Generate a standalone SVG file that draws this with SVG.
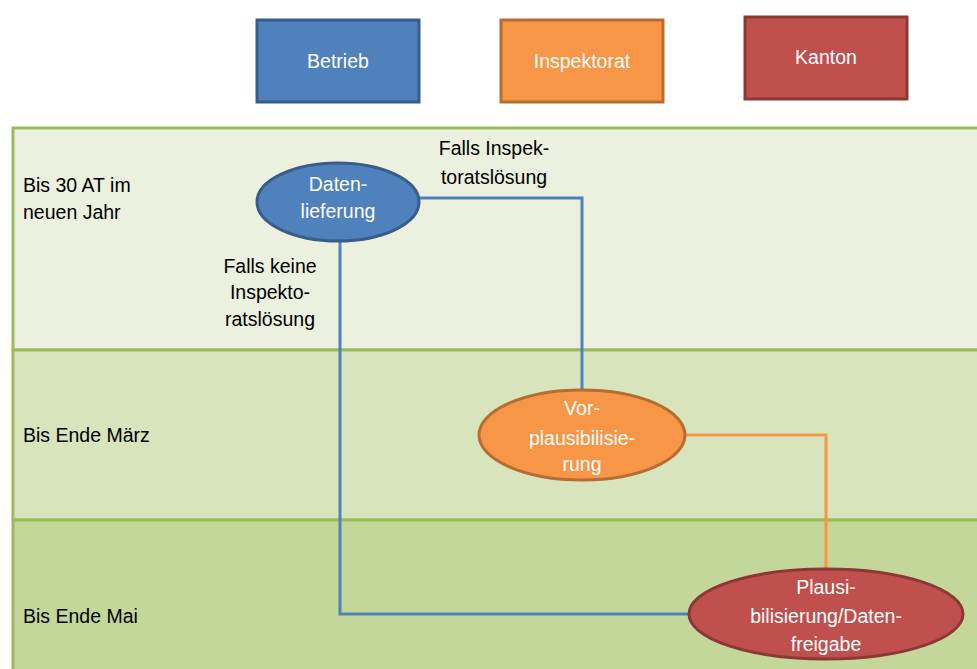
<svg xmlns="http://www.w3.org/2000/svg" width="977" height="669" viewBox="0 0 977 669">
<style>
text{font-family:"Liberation Sans",Arial,sans-serif;font-size:19.5px;}
.w{fill:#ffffff;text-anchor:middle;}
.b{fill:#000000;}
.c{text-anchor:middle;}
.lane{stroke:#9bbb59;stroke-width:3;}
.conn{fill:none;stroke-width:3;}
</style>
<rect x="0" y="0" width="977" height="669" fill="#ffffff"/>
<g id="lanes">
<rect class="lane" x="13" y="128" width="970" height="222" fill="#ebf1de"/>
<rect class="lane" x="13" y="350" width="970" height="170" fill="#d8e4bc"/>
<rect class="lane" x="13" y="520" width="970" height="155" fill="#c4d79b"/>
<text class="b" x="23" y="192">Bis 30 AT im</text>
<text class="b" x="23" y="219">neuen Jahr</text>
<text class="b" x="23" y="442">Bis Ende März</text>
<text class="b" x="23" y="623">Bis Ende Mai</text>
</g>
<g id="header-betrieb">
<rect x="257" y="20" width="162" height="82" fill="#4f81bd" stroke="#385d8a" stroke-width="3"/>
<text class="w" x="338" y="68">Betrieb</text>
</g>
<g id="header-inspektorat">
<rect x="501" y="20" width="162" height="82" fill="#f79646" stroke="#b66d31" stroke-width="3"/>
<text class="w" x="582" y="68">Inspektorat</text>
</g>
<g id="header-kanton">
<rect x="745" y="17" width="162" height="82" fill="#c0504d" stroke="#8c3836" stroke-width="3"/>
<text class="w" x="826" y="64">Kanton</text>
</g>
<g id="connectors">
<polyline class="conn" stroke="#4f81bd" points="419,198 582,198 582,391"/>
<polyline class="conn" stroke="#4f81bd" points="340,241 340,614 690,614"/>
<polyline class="conn" stroke="#f79646" points="685,435 826,435 826,570"/>
<text class="b c" x="494" y="155">Falls Inspek-</text>
<text class="b c" x="494" y="184">toratslösung</text>
<text class="b c" x="270" y="273">Falls keine</text>
<text class="b c" x="270" y="299">Inspekto-</text>
<text class="b c" x="270" y="326">ratslösung</text>
</g>
<g id="node-datenlieferung">
<ellipse cx="338" cy="202" rx="81" ry="39" fill="#4f81bd" stroke="#385d8a" stroke-width="3"/>
<text class="w" x="338" y="191">Daten-</text>
<text class="w" x="338" y="218">lieferung</text>
</g>
<g id="node-vorplausibilisierung">
<ellipse cx="582" cy="435" rx="103" ry="45" fill="#f79646" stroke="#b66d31" stroke-width="3"/>
<text class="w" x="582" y="415">Vor-</text>
<text class="w" x="582" y="445">plausibilisie-</text>
<text class="w" x="582" y="471">rung</text>
</g>
<g id="node-plausibilisierung">
<ellipse cx="826" cy="614" rx="137" ry="45" fill="#c0504d" stroke="#8c3836" stroke-width="3"/>
<text class="w" x="826" y="594">Plausi-</text>
<text class="w" x="826" y="623">bilisierung/Daten-</text>
<text class="w" x="826" y="651">freigabe</text>
</g>
</svg>
